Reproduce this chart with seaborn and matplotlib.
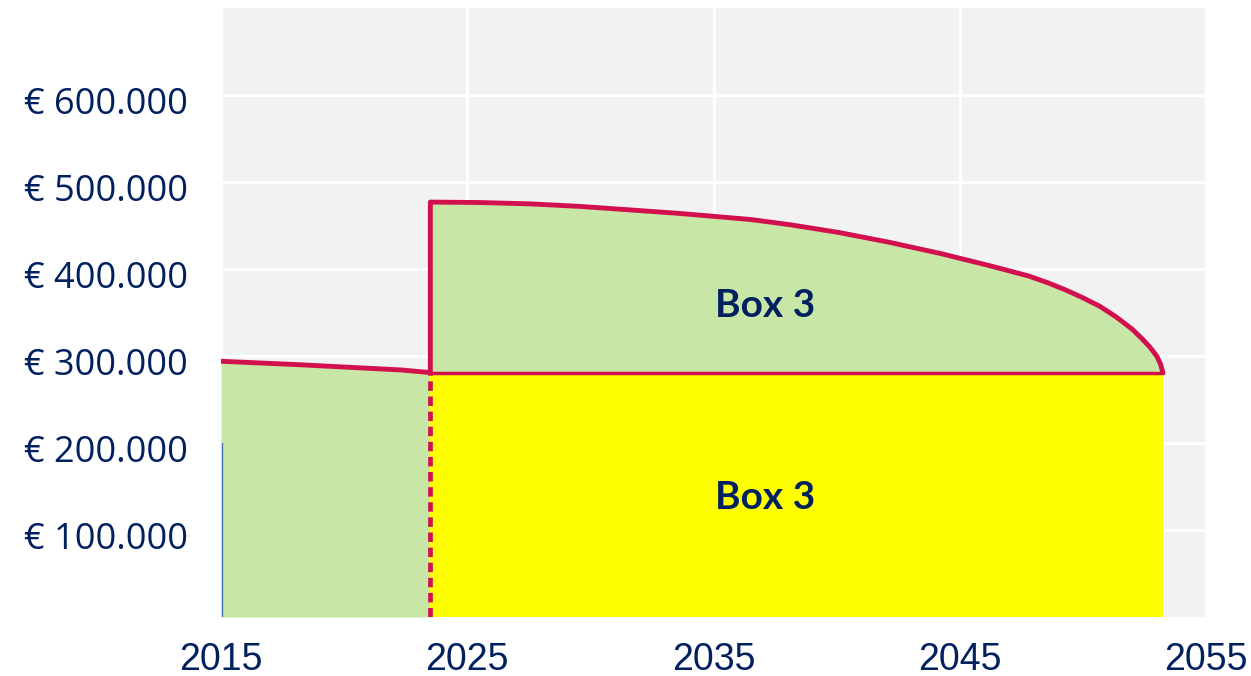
import matplotlib
matplotlib.use("Agg")
import matplotlib.pyplot as plt
from matplotlib.transforms import ScaledTranslation
import seaborn as sns
import numpy as np

# data
years_before = [2015, 2018.2, 2022.3, 2023.5]
value_before = [294000, 290000, 284000, 281000]
years_after = [2023.5, 2025.5, 2027.5, 2029.6, 2031.6, 2033.6, 2036.5, 2038.1,
               2040.1, 2042.1, 2044.2, 2046.2, 2047.8, 2048.6, 2049.3, 2050.0,
               2050.7, 2051.35, 2052.0, 2052.4, 2052.7, 2053.0, 2053.15, 2053.25]
value_after = [477000, 476500, 475000, 472000, 468000, 464000, 457000, 451000,
               442000, 431000, 418000, 404000, 392000, 384000, 376000, 367000,
               357000, 345000, 331000, 320000, 311000, 300000, 291000, 281000]
base_level = 281000
switch_year = 2023.5
end_year = 2053.25
x_ticks = [2015, 2025, 2035, 2045, 2055]
y_ticks = [100000, 200000, 300000, 400000, 500000, 600000]
box_labels = ["Box 3", "Box 3"]
box_label_pos = [(2037.1, 358000), (2037.1, 137000)]

red = "#d2104e"
green = "#c8e6a5"
yellow = "#ffff00"
navy = "#002060"

sns.set_theme(style="whitegrid", rc={"axes.facecolor": "#f2f2f2",
                                     "grid.color": "white",
                                     "grid.linewidth": 2.2})
plt.rcParams['font.family'] = ['Open Sans', 'DejaVu Sans']

fig = plt.figure(figsize=(12.51, 6.76), dpi=100)
ax = fig.add_axes([0.1767, 0.0873, 0.7873, 0.9007])

# fills
ax.fill_between(years_before, 0, value_before, color=green, lw=0, zorder=2)
ax.fill_between(years_after, base_level, value_after, color=green, lw=0, zorder=2)
ax.fill_between([switch_year, end_year], 0, base_level, color=yellow, lw=0, zorder=2)

# outlines
sns.lineplot(x=years_before, y=value_before, color=red, lw=3.5, ax=ax,
             sort=False, estimator=None, zorder=4)
sns.lineplot(x=[switch_year] + years_after, y=[base_level] + value_after,
             color=red, lw=3.5, ax=ax, sort=False, estimator=None, zorder=4,
             solid_joinstyle="round")
ax.plot([switch_year, end_year], [base_level, base_level], color=red, lw=2.5, zorder=4)
ax.plot([switch_year, switch_year], [0, base_level], color=red, lw=3.4,
        ls=(0, (2.0, 1.2)), zorder=4)
ax.plot([2015.05, 2015.05], [0, 200000], color="#4472c4", lw=1, zorder=3)

for txt, (bx, by) in zip(box_labels, box_label_pos):
    ax.text(bx, by, txt, color=navy, fontsize=28, fontweight="bold",
            family=['Lato', 'DejaVu Sans'], ha="center", va="center", zorder=5)

ax.set_xlim(2015, 2055)
ax.set_ylim(0, 700000)
ax.set_xticks(x_ticks)
ax.set_yticks(y_ticks)
ax.set_xticklabels([str(t) for t in x_ticks], fontsize=27, color=navy,
                   family=['Liberation Sans Narrow', 'Liberation Sans'])
ax.set_yticklabels(["€ " + f"{t:,}".replace(",", ".") for t in y_ticks],
                   fontsize=26, color=navy)
ax.tick_params(axis="y", length=0, pad=24)
ax.tick_params(axis="x", length=0, pad=18)
for lab in ax.get_yticklabels():
    lab.set_transform(lab.get_transform() + ScaledTranslation(0, -4 / 72, fig.dpi_scale_trans))
ax.grid(True, zorder=1)
ax.set_axisbelow(True)
for s in ax.spines.values():
    s.set_visible(False)

fig.savefig("out.png", dpi=100, facecolor="white")
